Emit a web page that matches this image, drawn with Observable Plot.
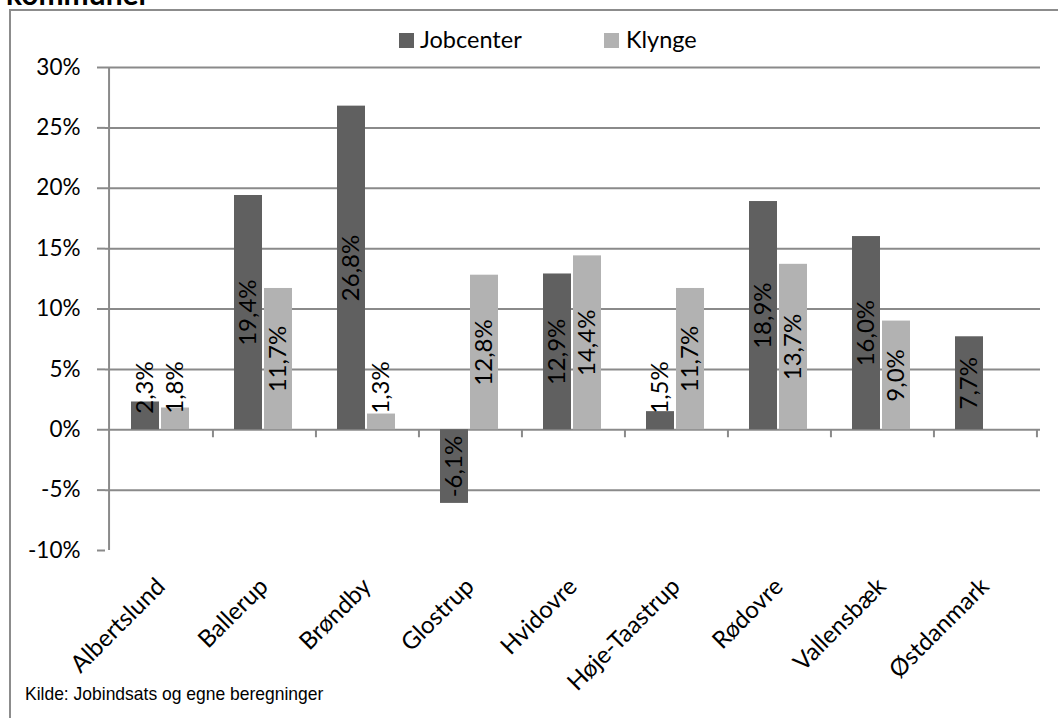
<!DOCTYPE html>
<html>
<head>
<meta charset="utf-8">
<script src="https://cdn.jsdelivr.net/npm/d3@7"></script>
<script src="https://cdn.jsdelivr.net/npm/@observablehq/plot@0.6"></script>
<style>
  html, body { margin: 0; padding: 0; background: #fff; }
  #wrap { position: relative; width: 1058px; height: 718px; overflow: hidden; background: #fff; }
  #title { position: absolute; left: 6px; top: -22px; font: bold 30px Lato, sans-serif; line-height: 30px; color: #000; white-space: nowrap; }
  #frame { position: absolute; left: 9px; top: 9px; width: 1100px; height: 800px; border-top: 2px solid #8c8c8c; border-left: 2px solid #8c8c8c; pointer-events: none; }
  #chart { position: absolute; left: 0; top: 0; }
  #chart svg { background: transparent; overflow: visible; }
  .lg { position: absolute; top: 28px; font: 23.5px Lato, sans-serif; line-height: 22px; color: #000; white-space: nowrap; }
  .sw { position: absolute; top: 33px; width: 15px; height: 15px; }
  #note { position: absolute; left: 25px; top: 684px; font: 19px "Liberation Sans", Arial, sans-serif; line-height: 19px; color: #000; white-space: nowrap; transform: scaleX(0.92); transform-origin: left top; }
</style>
</head>
<body>
<div id="wrap">
  <div id="title">kommuner</div>
  <div id="chart"></div>
  <div id="frame"></div>
  <div id="legend"></div>
  <div id="note"></div>
</div>
<script>
const categories = ["Albertslund", "Ballerup", "Brøndby", "Glostrup", "Hvidovre", "Høje-Taastrup", "Rødovre", "Vallensbæk", "Østdanmark"];
const seriesNames = ["Jobcenter", "Klynge"];
const jobcenter = [2.3, 19.4, 26.8, -6.1, 12.9, 1.5, 18.9, 16.0, 7.7];
const klynge = [1.8, 11.7, 1.3, 12.8, 14.4, 11.7, 13.7, 9.0, null];
const yTicks = [-10, -5, 0, 5, 10, 15, 20, 25, 30];
const seriesColors = ["#606060", "#b2b2b2"];
const sourceNote = "Kilde: Jobindsats og egne beregninger";

const rowsJ = categories.map((c, i) => ({category: c, series: seriesNames[0], value: jobcenter[i]}));
const rowsK = categories.map((c, i) => ({category: c, series: seriesNames[1], value: klynge[i]})).filter(d => d.value != null);

const W = 1058, H = 718, mL = 105, mR = 18, mT = 67, mB = 168;
const bw = (W - mL - mR) / categories.length;
const gridColor = "#8a8a8a";
const fmt = v => v.toFixed(1).replace(".", ",") + "%";
const labelY = d => d.value > 0 ? Math.max(d.value / 2, 3.5) : d.value / 2;

const chart = Plot.plot({
  width: W, height: H,
  marginLeft: mL, marginRight: mR, marginTop: mT, marginBottom: mB,
  style: {fontFamily: "Lato, sans-serif", color: "#000", background: "transparent"},
  x: {domain: categories, padding: 0},
  y: {domain: [-10, 30]},
  marks: [
    Plot.gridY({ticks: yTicks.filter(t => t > -10), stroke: gridColor, strokeOpacity: 1, strokeWidth: 2}),
    Plot.axisY({ticks: yTicks, tickSize: 8, tickPadding: 17, tickFormat: d => d + "%", fontSize: 22.5, stroke: gridColor, strokeWidth: 2, fill: "#000", label: null}),
    Plot.ruleX([categories[0]], {x: d => d, dx: -bw / 2, y1: -10, y2: 30, stroke: gridColor, strokeWidth: 2}),
    Plot.ruleX(categories, {x: d => d, dx: bw / 2, y1: 0, y2: -8 / 12.07, stroke: gridColor, strokeWidth: 2}),
    Plot.barY(rowsJ, {x: "category", y: "value", fill: seriesColors[0], insetLeft: 22, insetRight: 53}),
    Plot.barY(rowsK, {x: "category", y: "value", fill: seriesColors[1], insetLeft: 52, insetRight: 23}),
    Plot.axisX({tickSize: 0, tickPadding: 32, tickRotate: -45, fontSize: 24, fill: "#000", label: null}),
    Plot.text(rowsJ, {x: "category", y: labelY, text: d => fmt(d.value), rotate: -90, dx: -15.5, fontSize: 24, fill: "#000"}),
    Plot.text(rowsK, {x: "category", y: labelY, text: d => fmt(d.value), rotate: -90, dx: 14.5, fontSize: 24, fill: "#000"})
  ]
});
document.getElementById("chart").appendChild(chart);

// legend
const legend = document.getElementById("legend");
const legendX = [[399, 420], [604, 626]];
seriesNames.forEach((s, i) => {
  const sw = document.createElement("div");
  sw.className = "sw";
  sw.style.left = legendX[i][0] + "px";
  sw.style.background = seriesColors[i];
  legend.appendChild(sw);
  const t = document.createElement("div");
  t.className = "lg";
  t.style.left = legendX[i][1] + "px";
  t.textContent = s;
  legend.appendChild(t);
});
document.getElementById("note").textContent = sourceNote;
</script>
</body>
</html>
